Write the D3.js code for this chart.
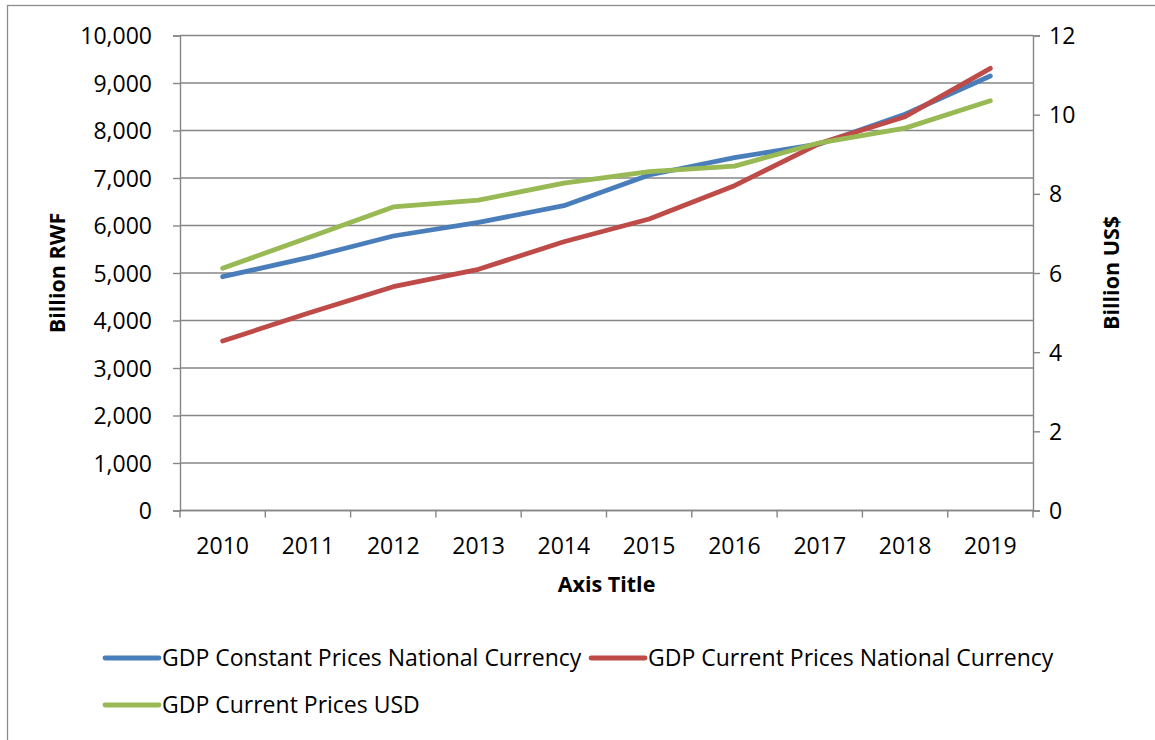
<!DOCTYPE html>
<html>
<head>
<meta charset="utf-8">
<script src="https://cdn.jsdelivr.net/npm/d3@7"></script>
<style>
  html, body { margin: 0; padding: 0; background: #fff; }
  svg { display: block; }
  text { font-family: "Open Sans", "Noto Sans", sans-serif; fill: #000; }
</style>
</head>
<body>
<svg id="chart" width="1155" height="740"></svg>
<script>
// Rwanda GDP, 2010-2019
const years = ["2010", "2011", "2012", "2013", "2014", "2015", "2016", "2017", "2018", "2019"];
const gdpConstantRWF = [4922, 5322, 5779, 6067, 6417, 7063, 7428, 7716, 8341, 9147];   // billion RWF
const gdpCurrentRWF  = [3568, 4153, 4712, 5078, 5659, 6137, 6838, 7730, 8291, 9309];   // billion RWF
const gdpCurrentUSD  = [6.12, 6.89, 7.67, 7.84, 8.27, 8.56, 8.70, 9.29, 9.66, 10.35];  // billion US$

const leftTicks  = [0, 1000, 2000, 3000, 4000, 5000, 6000, 7000, 8000, 9000, 10000];
const rightTicks = [0, 2, 4, 6, 8, 10, 12];

const seriesNames = [
  "GDP Constant Prices National Currency",
  "GDP Current Prices National Currency",
  "GDP Current Prices USD"
];
const seriesColors = ["#4A7EBB", "#BE4B48", "#98B954"];

const svg = d3.select("#chart");
const gridColor = "#868686";

// chart frame
svg.append("rect")
  .attr("x", 7.5).attr("y", 5.5)
  .attr("width", 1200).attr("height", 800)
  .attr("fill", "#fff").attr("stroke", "#8c8c8c").attr("stroke-width", 1.3);

const plot = { left: 180, right: 1033, top: 35.5, bottom: 510.5 };

const x = d3.scaleBand().domain(years).range([plot.left, plot.right]);
const y = d3.scaleLinear().domain([0, 10000]).range([plot.bottom, plot.top]);
const y2 = d3.scaleLinear().domain([0, 12]).range([plot.bottom, plot.top]);
const cx = d => x(d) + x.bandwidth() / 2;

// horizontal gridlines
svg.append("g")
  .selectAll("line")
  .data(leftTicks)
  .join("line")
  .attr("x1", plot.left).attr("x2", plot.right)
  .attr("y1", d => y(d)).attr("y2", d => y(d))
  .attr("stroke", gridColor).attr("stroke-width", 1.4);

// left axis
const leftAxis = svg.append("g")
  .attr("transform", `translate(${plot.left},0)`)
  .call(d3.axisLeft(y).tickValues(leftTicks).tickFormat(d3.format(",")).tickSize(7).tickPadding(21));
leftAxis.select(".domain").attr("stroke", gridColor).attr("stroke-width", 1.4);
leftAxis.selectAll(".tick line").attr("stroke", gridColor).attr("stroke-width", 1.4);
leftAxis.selectAll(".tick text")
  .attr("font-family", "Open Sans").attr("font-size", 23).attr("fill", "#000").attr("dy", "0.35em");

// right axis
const rightAxis = svg.append("g")
  .attr("transform", `translate(${plot.right},0)`)
  .call(d3.axisRight(y2).tickValues(rightTicks).tickSize(7).tickPadding(9));
rightAxis.select(".domain").attr("stroke", gridColor).attr("stroke-width", 1.4);
rightAxis.selectAll(".tick line").attr("stroke", gridColor).attr("stroke-width", 1.4);
rightAxis.selectAll(".tick text")
  .attr("font-family", "Open Sans").attr("font-size", 23).attr("fill", "#000").attr("dy", "0.35em");

// bottom axis: ticks between categories
const bottomAxis = svg.append("g")
  .attr("transform", `translate(0,${plot.bottom})`);
bottomAxis.append("line")
  .attr("x1", plot.left).attr("x2", plot.right)
  .attr("stroke", gridColor).attr("stroke-width", 1.4);
const boundaries = years.map(d => x(d)).concat([plot.right]);
bottomAxis.selectAll("line.tk")
  .data(boundaries)
  .join("line").attr("class", "tk")
  .attr("x1", d => d).attr("x2", d => d)
  .attr("y1", 0).attr("y2", 7)
  .attr("stroke", gridColor).attr("stroke-width", 1.4);
bottomAxis.selectAll("text")
  .data(years)
  .join("text")
  .attr("x", d => cx(d)).attr("y", 43)
  .attr("text-anchor", "middle")
  .attr("font-size", 23)
  .text(d => d);

// axis titles
svg.append("text")
  .attr("x", (plot.left + plot.right) / 2).attr("y", 592)
  .attr("text-anchor", "middle").attr("font-size", 21.5).attr("font-weight", "bold")
  .text("Axis Title");
svg.append("text")
  .attr("transform", `translate(65,${(plot.top + plot.bottom) / 2}) rotate(-90)`)
  .attr("text-anchor", "middle").attr("font-size", 21.5).attr("font-weight", "bold")
  .text("Billion RWF");
svg.append("text")
  .attr("transform", `translate(1119,${(plot.top + plot.bottom) / 2}) rotate(-90)`)
  .attr("text-anchor", "middle").attr("font-size", 21.5).attr("font-weight", "bold")
  .text("Billion US$");

// series lines
const lineLeft = d3.line().x((v, i) => cx(years[i])).y(v => y(v));
const lineRight = d3.line().x((v, i) => cx(years[i])).y(v => y2(v));

const series = [
  { values: gdpConstantRWF, gen: lineLeft },
  { values: gdpCurrentRWF, gen: lineLeft },
  { values: gdpCurrentUSD, gen: lineRight }
];

svg.append("g")
  .selectAll("path")
  .data(series)
  .join("path")
  .attr("d", s => s.gen(s.values))
  .attr("fill", "none")
  .attr("stroke", (s, i) => seriesColors[i])
  .attr("stroke-width", 4.8)
  .attr("stroke-linejoin", "round")
  .attr("stroke-linecap", "round");

// legend
const legendItems = [
  { name: seriesNames[0], color: seriesColors[0], x: 105, y: 658 },
  { name: seriesNames[1], color: seriesColors[1], x: 591, y: 658 },
  { name: seriesNames[2], color: seriesColors[2], x: 105, y: 705 }
];
const lg = svg.append("g").selectAll("g")
  .data(legendItems)
  .join("g")
  .attr("transform", d => `translate(${d.x},${d.y})`);
lg.append("line")
  .attr("x1", 0).attr("x2", 54)
  .attr("stroke", d => d.color).attr("stroke-width", 4.8).attr("stroke-linecap", "round");
lg.append("text")
  .attr("x", 57).attr("y", 0).attr("dy", "0.35em")
  .attr("font-size", 23)
  .text(d => d.name);
</script>
</body>
</html>
